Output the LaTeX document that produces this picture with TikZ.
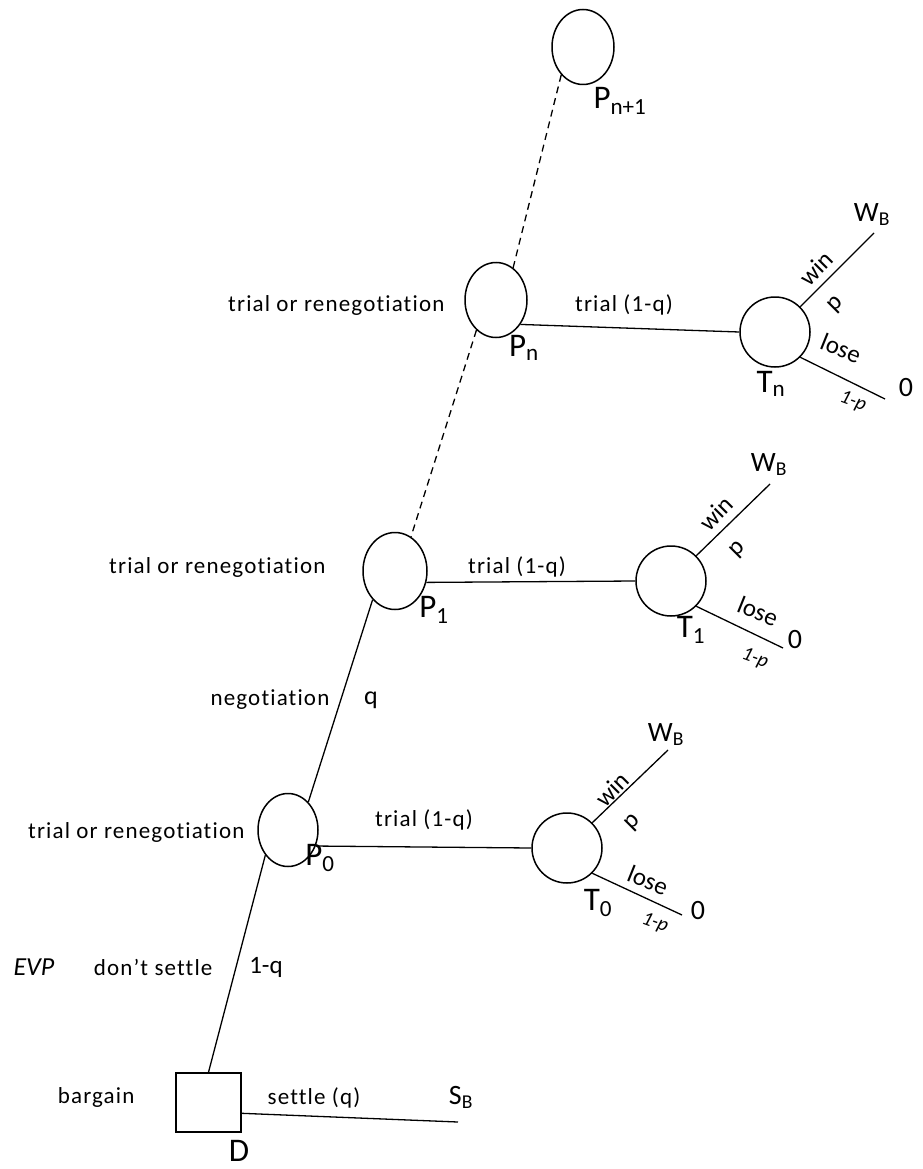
\documentclass[tikz,border=0pt]{standalone}
\usepackage{fontspec}
\setmainfont{Carlito}[Ligatures=NoCommon]
\usetikzlibrary{shapes.geometric}
\newcommand{\fsz}[1]{\fontsize{#1}{#1}\selectfont}
\begin{document}
\begin{tikzpicture}[x=1pt,y=-1pt,
  line width=1.2pt,
  pnode/.style={draw, ellipse, minimum width=62pt, minimum height=75pt, inner sep=0pt, line width=1.5pt},
  tnode/.style={draw, circle, minimum size=70pt, inner sep=0pt, line width=1.5pt},
  dnode/.style={draw, rectangle, minimum width=65pt, minimum height=59pt, inner sep=0pt, line width=1.5pt},
  lbl/.style={font=\fsz{23}\addfontfeature{LetterSpace=5}, inner sep=0pt},
  big/.style={font=\fsz{33}, inner sep=0pt},
  wlbl/.style={font=\fsz{28}, inner sep=0pt},
  rot/.style={font=\fsz{25}, inner sep=0pt},
  small/.style={font=\fsz{20}\itshape, inner sep=0pt, rotate=-20},
  conn/.style={line width=1.3pt},
  dconn/.style={line width=1.3pt, dash pattern=on 7pt off 5pt}
]
\useasboundingbox (0,0) rectangle (922,1169);

% decision nodes
\node[pnode] (Pn1) at (583,47) {};
\node[pnode] (Pn) at (496,300) {};
\node[pnode, minimum width=64pt, minimum height=77pt] (P1) at (395,571) {};
\node[pnode, minimum width=60pt, minimum height=73pt] (P0) at (288,830) {};
\node[tnode] (Tn) at (775,332) {};
\node[tnode] (T1) at (671,581) {};
\node[tnode] (T0) at (567,848) {};
\node[dnode] (D) at (208.5,1102.5) {};

% free ends
\coordinate (WnE) at (874,233);
\coordinate (LnE) at (885,399);
\coordinate (W1E) at (770,484);
\coordinate (L1E) at (783,648);
\coordinate (W0E) at (668,750);
\coordinate (L0E) at (682,915);
\coordinate (SE) at (458,1122);

% connectors
\draw[dconn] (Pn1.232) -- (Pn.62);
\draw[dconn] (Pn.237) -- (P1.65);
\draw[conn] (P0.54) -- (P1.232);
\draw[conn] (D.north) -- (P0.228);
\draw[conn] (Pn.-45) -- (Tn.west);
\draw[conn] (P1.-20) -- (T1.west);
\draw[conn] (P0.-30) -- (T0.west);
\draw[conn] (Tn.45) -- (WnE);
\draw[conn] (Tn.-45) -- (LnE);
\draw[conn] (T1.45) -- (W1E);
\draw[conn] (T1.-45) -- (L1E);
\draw[conn] (T0.45) -- (W0E);
\draw[conn] (T0.-45) -- (L0E);
\draw[conn] (D.-18) -- (SE);

% node labels
\node[big] (lPn1) at (620,101) {P\textsubscript{n+1}};
\node[big] (lPn) at (524,348) {P\textsubscript{n}};
\node[big] (lP1) at (434,610) {P\textsubscript{1}};
\node[big] (lP0) at (320,858) {P\textsubscript{0}};
\node[big] (lTn) at (771,384) {T\textsubscript{n}};
\node[big] (lT1) at (691,630) {T\textsubscript{1}};
\node[big] (lT0) at (598,903) {T\textsubscript{0}};
\node[big] (lD) at (239,1151) {D};

% payoffs
\node[wlbl] (wn) at (872,215) {W\textsubscript{B}};
\node[wlbl] (w1) at (769,465) {W\textsubscript{B}};
\node[wlbl] (w0) at (666,735) {W\textsubscript{B}};
\node[wlbl] (zn) at (906,388) {0};
\node[wlbl] (z1) at (795,640) {0};
\node[wlbl] (z0) at (698,910) {0};
\node[wlbl] (sb) at (461,1097) {S\textsubscript{B}};

% branch texts
\node[lbl, anchor=east] (tn) at (445,305) {trial or renegotiation};
\node[lbl, anchor=east] (t1) at (326,567) {trial or renegotiation};
\node[lbl, anchor=east] (t0) at (245,832) {trial or renegotiation};
\node[lbl] (trn) at (624,305) {trial (1-q)};
\node[lbl] (tr1) at (517,567) {trial (1-q)};
\node[lbl] (tr0) at (424,820) {trial (1-q)};
\node[lbl, anchor=east] (neg) at (330,700) {negotiation};
\node[lbl, font=\fsz{26}] (q) at (371,700) {q};
\node[lbl, font=\fsz{26}\itshape] (evp) at (34,967) {EVP};
\node[lbl, anchor=east] (dns) at (213,967) {don’t settle};
\node[lbl, font=\fsz{25}] (omq) at (266,967) {1-q};
\node[lbl, anchor=east] (barg) at (135,1097) {bargain};
\node[lbl] (set) at (314,1098) {settle (q)};

% win / lose
\node[rot, rotate=45] (winn) at (816,268) {win};
\node[rot, rotate=45] (win1) at (716,513) {win};
\node[rot, rotate=45] (win0) at (612,789) {win};
\node[rot, rotate=45] (pn) at (836,305) {p};
\node[rot, rotate=45] (p1) at (738,550) {p};
\node[rot, rotate=45] (p0) at (633,823) {p};
\node[rot, rotate=-22] (losen) at (841,348) {lose};
\node[rot, rotate=-22] (lose1) at (758,611) {lose};
\node[rot, rotate=-22] (lose0) at (648,880) {lose};
\node[small] (qn) at (853,402) {1-p};
\node[small] (q1) at (755,659) {1-p};
\node[small] (q0) at (655,923) {1-p};
\end{tikzpicture}
\end{document}
